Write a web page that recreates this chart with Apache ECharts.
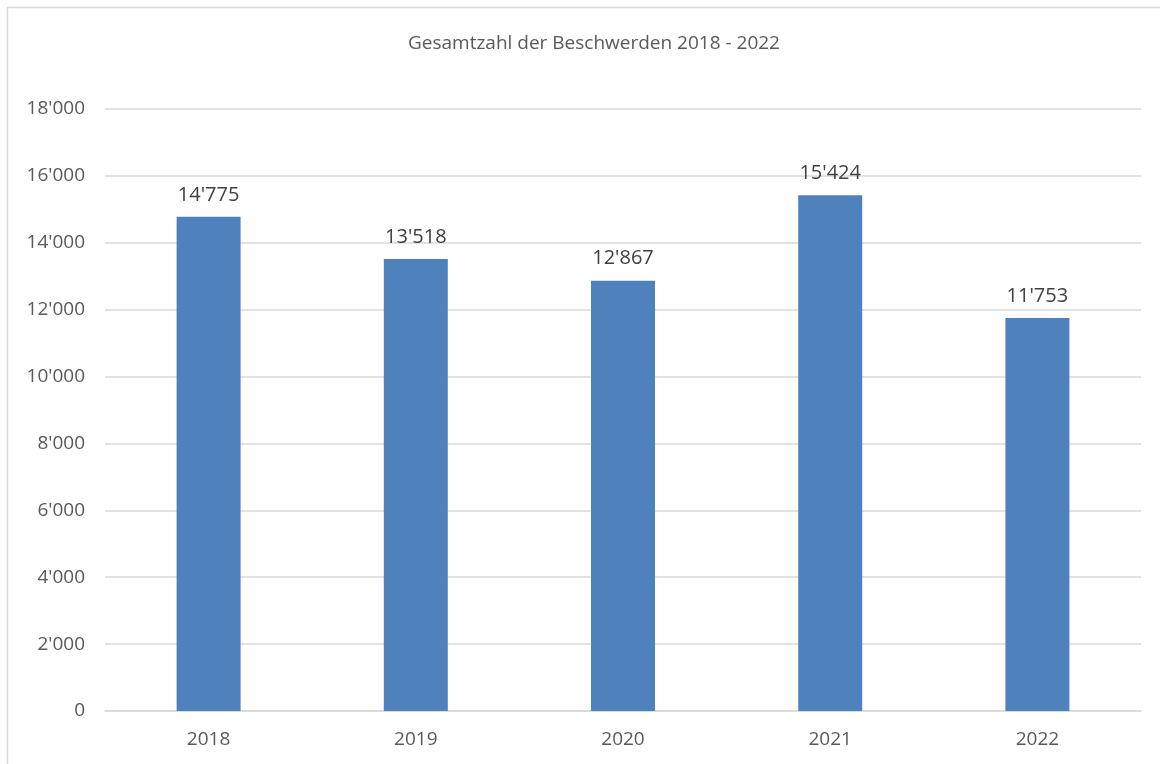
<!DOCTYPE html>
<html>
<head>
<meta charset="utf-8">
<script src="https://cdn.jsdelivr.net/npm/echarts@6/dist/echarts.min.js"></script>
<style>
html,body{margin:0;padding:0;background:#fff;}
#chart{width:1160px;height:764px;}
</style>
</head>
<body>
<div id="chart"></div>
<script>
const categories = ['2018', '2019', '2020', '2021', '2022'];
const values = [14775, 13518, 12867, 15424, 11753];
const yTicks = { min: 0, max: 18000, interval: 2000 };
const titleText = 'Gesamtzahl der Beschwerden 2018 - 2022';

function fmt(v) {
  return String(v).replace(/\B(?=(\d{3})+(?!\d))/g, "'");
}

const FONT = '"Open Sans", "Noto Sans", sans-serif';
const chart = echarts.init(document.getElementById('chart'), null, { renderer: 'canvas' });
chart.setOption({
  animation: false,
  backgroundColor: '#ffffff',
  graphic: [{
    type: 'rect',
    shape: { x: 7.5, y: 7.5, width: 1200, height: 800 },
    style: { fill: 'none', stroke: '#d9d9d9', lineWidth: 1.5 },
    silent: true
  }],
  title: {
    text: titleText,
    left: 403,
    top: 29,
    textStyle: { fontFamily: FONT, fontSize: 19, fontWeight: 'normal', color: '#595959' }
  },
  grid: { left: 105, right: 19, top: 109, bottom: 53, containLabel: false },
  xAxis: {
    type: 'category',
    data: categories,
    axisLine: { lineStyle: { color: '#d9d9d9', width: 1.5 } },
    axisTick: { show: false },
    axisLabel: { fontFamily: FONT, fontSize: 19, color: '#595959', margin: 19 }
  },
  yAxis: {
    type: 'value',
    min: yTicks.min,
    max: yTicks.max,
    interval: yTicks.interval,
    axisLine: { show: false },
    axisTick: { show: false },
    splitLine: { lineStyle: { color: '#d9d9d9', width: 1.5 } },
    axisLabel: { fontFamily: FONT, fontSize: 19, color: '#595959', margin: 20, formatter: fmt }
  },
  series: [{
    type: 'bar',
    data: values,
    barWidth: 64,
    itemStyle: { color: '#4f81bd' },
    label: {
      show: true,
      position: 'top',
      distance: 12,
      fontFamily: FONT,
      fontSize: 20,
      color: '#404040',
      formatter: p => fmt(p.value)
    }
  }]
});
</script>
</body>
</html>
